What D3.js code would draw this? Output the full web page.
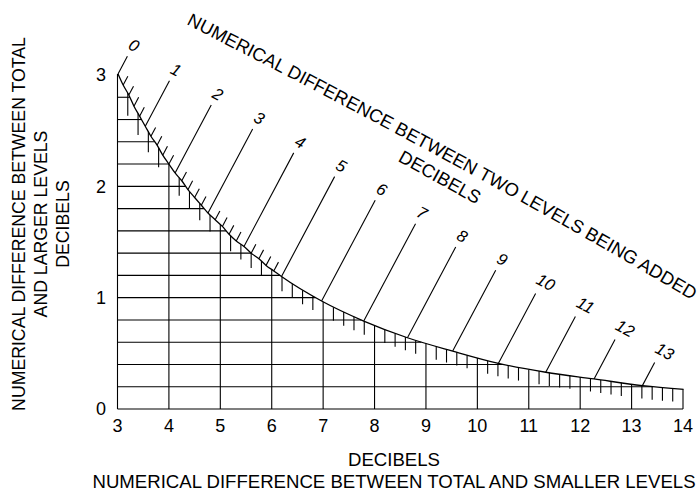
<!DOCTYPE html>
<html>
<head>
<meta charset="utf-8">
<script src="https://cdn.jsdelivr.net/npm/d3@7"></script>
<style>
  body { margin: 0; background: #fff; }
  svg text { font-family: "Liberation Sans", Arial, Helvetica, sans-serif; fill: #000; }
</style>
</head>
<body>
<svg id="chart" width="700" height="493"></svg>
<script>
// ---------------- DATA ----------------
// x: numerical difference between total and smaller levels (dB)
const xTickValues = [3, 4, 5, 6, 7, 8, 9, 10, 11, 12, 13, 14];
// y: numerical difference between total and larger levels (dB)
const yTickValues = [0, 1, 2, 3];
const yGridValues = [0.2, 0.4, 0.6, 0.8, 1.0, 1.2, 1.4, 1.6, 1.8, 2.0, 2.2, 2.4, 2.6, 2.8];
// Curve: difference between the two levels being added (dB) ...
const curveDiff = [0, 0.2, 0.4, 0.6, 0.8, 1, 1.2, 1.4, 1.6, 1.8, 2, 2.2, 2.4, 2.6, 2.8, 3,
                   3.2, 3.4, 3.6, 3.8, 4, 4.2, 4.4, 4.6, 4.8, 5, 6, 7, 8, 9, 10, 11, 12, 13, 14];
// ... and the matching difference between total and larger level (dB)
const curveLevel = [3.01, 2.91, 2.82, 2.72, 2.63, 2.54, 2.45, 2.37, 2.28, 2.20, 2.12, 2.05, 1.97, 1.90, 1.83, 1.76,
                    1.70, 1.64, 1.57, 1.51, 1.46, 1.40, 1.35, 1.29, 1.24, 1.19, 0.97, 0.79, 0.64, 0.52, 0.41, 0.33, 0.27, 0.21, 0.17];
const diffLabels = ["0", "1", "2", "3", "4", "5", "6", "7", "8", "9", "10", "11", "12", "13"];

const xTitleTop = "DECIBELS";
const xTitle = "NUMERICAL DIFFERENCE BETWEEN TOTAL AND SMALLER LEVELS";
const yTitleLines = ["NUMERICAL DIFFERENCE BETWEEN TOTAL", "AND LARGER LEVELS", "DECIBELS"];
const diagTitle = "NUMERICAL DIFFERENCE BETWEEN TWO LEVELS BEING ADDED";
const diagSub = "DECIBELS";

// ---------------- LAYOUT ----------------
const svg = d3.select("#chart");
const x = d3.scaleLinear().domain([3, 14]).range([117.5, 683]);
const y = d3.scaleLinear().domain([0, 3]).range([409, 75]);

const FONT = 18;
const ANG = 28;                                   // label angle (deg)
const rad = ANG * Math.PI / 180;
const along = [Math.cos(rad), Math.sin(rad)];
const LANG = 62 * Math.PI / 180;
const dir = [Math.cos(LANG), -Math.sin(LANG)];    // scale-line direction (up-right)

const pts = curveDiff.map((d, i) => ({ d, lv: curveLevel[i], xv: d + curveLevel[i] }));

const defs = svg.append("defs");
defs.append("clipPath").attr("id", "clip")
  .append("rect").attr("x", 0).attr("y", 0).attr("width", x(14) + 0.6).attr("height", 493);
const tp = d3.path();
tp.moveTo(186, 24); tp.quadraticCurveTo(490, 179, 705, 308);
defs.append("path").attr("id", "diagPath").attr("d", tp.toString());

const lineGen = d3.line().x(p => x(p.xv)).y(p => y(p.lv)).curve(d3.curveMonotoneX);
const curvePath = svg.append("path")
  .attr("d", lineGen(pts))
  .attr("clip-path", "url(#clip)")
  .attr("fill", "none").attr("stroke", "#000").attr("stroke-width", 1.3);

// sample the curve for intersections
const node = curvePath.node();
const total = node.getTotalLength();
const samples = d3.range(0, 801).map(i => node.getPointAtLength(total * i / 800));
function curvePyAt(px) {
  if (px <= samples[0].x) return samples[0].y;
  for (let i = 1; i < samples.length; i++) {
    const a = samples[i - 1], b = samples[i];
    if (b.x >= px) { const t = (px - a.x) / (b.x - a.x || 1); return a.y + t * (b.y - a.y); }
  }
  return samples[samples.length - 1].y;
}
function curvePxAt(py) {
  for (let i = 1; i < samples.length; i++) {
    const a = samples[i - 1], b = samples[i];
    if (b.y >= py) { const t = (py - a.y) / (b.y - a.y || 1); return a.x + t * (b.x - a.x); }
  }
  return samples[samples.length - 1].x;
}

const g = svg.append("g").attr("stroke", "#000").attr("stroke-width", 1.1);

// x axis baseline
g.append("line").attr("x1", x(3)).attr("x2", x(14)).attr("y1", y(0)).attr("y2", y(0));

// vertical grid lines (from 0 up to the curve)
g.selectAll(".vg").data(xTickValues).enter().append("line")
  .attr("x1", d => x(d)).attr("x2", d => x(d))
  .attr("y1", y(0)).attr("y2", d => d === 3 ? y(curveLevel[0]) : curvePyAt(x(d)));

// horizontal grid lines (from x=3 to the curve)
g.selectAll(".hg").data(yGridValues).enter().append("line")
  .attr("x1", x(3)).attr("y1", d => y(d)).attr("y2", d => y(d))
  .attr("x2", d => Math.min(x(14), curvePxAt(y(d))));

// fine x scale: short vertical ticks hanging under the curve every 0.2 dB
const fineX = x.ticks(55).filter(v => v > 3 && v < 14 && Math.abs(v - Math.round(v)) > 1e-6);
g.selectAll(".ft").data(fineX).enter().append("line")
  .attr("x1", d => x(d)).attr("x2", d => x(d))
  .attr("y1", d => curvePyAt(x(d)))
  .attr("y2", d => curvePyAt(x(d)) + 13 + 11 * Math.exp(-(d - 3) / 1.5));

// minor slanted ticks of the "difference between levels" scale
const minorPts = pts.filter(p => p.d < 5 && Math.abs(p.d - Math.round(p.d)) > 1e-6);
g.selectAll(".mt").data(minorPts).enter().append("line")
  .attr("x1", p => x(p.xv)).attr("y1", p => y(p.lv))
  .attr("x2", p => x(p.xv) + 10 * dir[0]).attr("y2", p => y(p.lv) + 10 * dir[1]);

// major lines up to a guide line
const G0 = [x(3.988), y(2.955)], G1 = [x(13.42), y(0.425)];
function topOf(px, py) {
  const ex = G1[0] - G0[0], ey = G1[1] - G0[1];
  const det = dir[0] * (-ey) - dir[1] * (-ex);
  const rx = G0[0] - px, ry = G0[1] - py;
  const t = (rx * (-ey) - ry * (-ex)) / det;
  return [px + t * dir[0], py + t * dir[1]];
}
const majorPts = pts.filter(p => Math.abs(p.d - Math.round(p.d)) < 1e-6 && p.d <= 13);
majorPts.forEach((p, i) => {
  const px = x(p.xv), py = y(p.lv);
  const top = topOf(px, py);
  g.append("line").attr("x1", px).attr("y1", py).attr("x2", top[0]).attr("y2", top[1]);
  const lab = diffLabels[i];
  const n = lab.length;
  const off = 14 + 2 * (n - 1);
  const cx = top[0] + off * dir[0] + (n - 1) * 3 * along[0];
  const cy = top[1] + off * dir[1] + (n - 1) * 3 * along[1] + 1.5;
  svg.append("text")
    .attr("transform", `translate(${cx},${cy}) rotate(${ANG})`)
    .attr("text-anchor", "middle").attr("dy", "0.35em")
    .attr("font-size", 16.5).attr("font-style", "italic")
    .text(lab);
});

// tick labels
svg.selectAll(".xl").data(xTickValues).enter().append("text")
  .attr("x", d => x(d)).attr("y", 431.5).attr("text-anchor", "middle")
  .attr("font-size", FONT).text(d => d);
svg.selectAll(".yl").data(yTickValues).enter().append("text")
  .attr("x", 106).attr("y", d => y(d)).attr("dy", "0.35em").attr("text-anchor", "end")
  .attr("font-size", FONT).text(d => d);

// axis titles
svg.append("text").attr("x", 394).attr("y", 466).attr("text-anchor", "middle")
  .attr("font-size", 18.6).text(xTitleTop);
svg.append("text").attr("x", 394).attr("y", 488).attr("text-anchor", "middle")
  .attr("font-size", 18.6).text(xTitle);
yTitleLines.forEach((t, i) => {
  svg.append("text")
    .attr("transform", `translate(${24.5 + 22 * i},224) rotate(-90)`)
    .attr("text-anchor", "middle").attr("font-size", 17.7).text(t);
});

// diagonal title (slightly curved baseline)
svg.append("text").attr("font-size", 18.3)
  .append("textPath").attr("href", "#diagPath").attr("startOffset", 0).text(diagTitle);
svg.append("text")
  .attr("transform", `translate(440,177) rotate(29)`)
  .attr("text-anchor", "middle").attr("dy", "0.35em")
  .attr("font-size", 18.3).text(diagSub);
</script>
</body>
</html>
